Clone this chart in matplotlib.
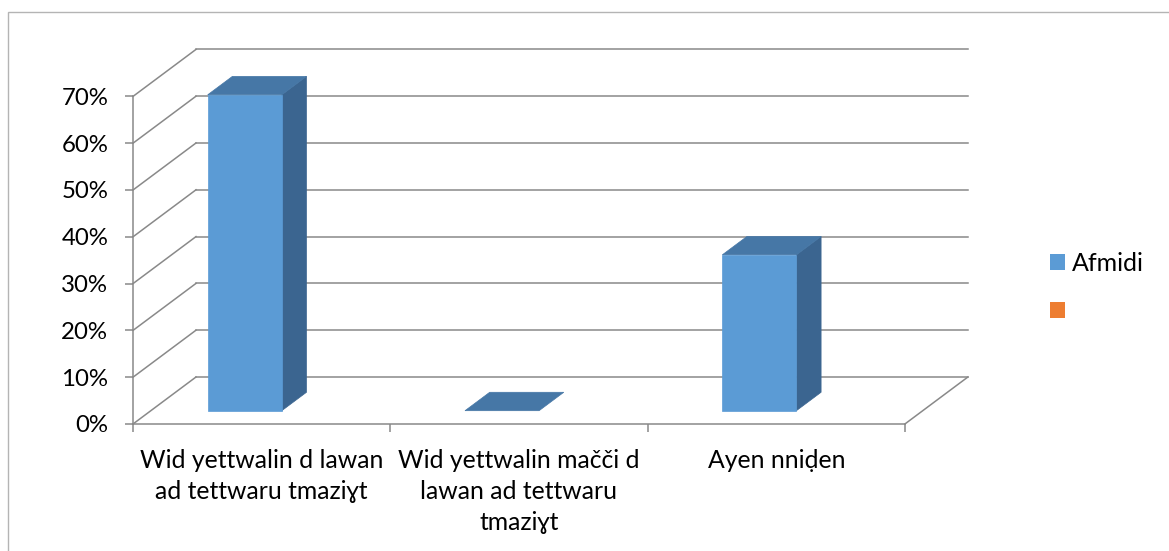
import numpy as np
import matplotlib.pyplot as plt
from matplotlib.patches import Polygon, Patch, Rectangle

plt.rcParams['font.family'] = ['Lato', 'Noto Sans', 'DejaVu Sans']

# data
categories = ['Wid yettwalin d lawan\nad tettwaru tmaziɣt',
              'Wid yettwalin mačči d\nlawan ad tettwaru\ntmaziɣt',
              'Ayen nniḍen']
values = [67.5, 0.0, 33.3]
series_name = 'Afmidi'
yticks = [0, 10, 20, 30, 40, 50, 60, 70]

# colours
FRONT = '#5b9bd5'
TOP = '#4677a6'
SIDE = '#3b6590'
ORANGE = '#ed7d31'
GRID = '#898989'

W, H = 1169, 551
fig = plt.figure(figsize=(W / 100, H / 100), dpi=100)

# pixel layout of the fake 3d box
x0_px, y0_px = 133, 424
px_per_cat = 257.3
px_per_pct = 4.68
depth_px = (63, 47)

ax = fig.add_axes([0, 0, 1, 1])
ax.set_xlim(-x0_px / px_per_cat, (W - x0_px) / px_per_cat)
ax.set_ylim(-(H - y0_px) / px_per_pct, y0_px / px_per_pct)

DX = depth_px[0] / px_per_cat
DY = depth_px[1] / px_per_pct


def proj(x, v, d):
    return (x + d * DX, v + d * DY)


ncat = len(categories)

# back wall grid + left wall diagonals
for v in yticks:
    a, b = proj(0, v, 1), proj(ncat, v, 1)
    ax.plot([a[0], b[0]], [a[1], b[1]], color=GRID, lw=1.1, zorder=1)
    c = proj(0, v, 0)
    ax.plot([c[0], a[0]], [c[1], a[1]], color=GRID, lw=1.1, zorder=1)
# right floor edge
a, b = proj(ncat, 0, 0), proj(ncat, 0, 1)
ax.plot([a[0], b[0]], [a[1], b[1]], color=GRID, lw=1.1, zorder=1)

# bars
bar_w = 0.288
bar_off = -0.135
d0, d1 = 0.283, 0.675
for i, val in enumerate(values):
    xl = i + 0.5 + bar_off - bar_w / 2
    xr = xl + bar_w
    top = [proj(xl, val, d0), proj(xr, val, d0), proj(xr, val, d1), proj(xl, val, d1)]
    if val > 0:
        side = [proj(xr, 0, d0), proj(xr, 0, d1), proj(xr, val, d1), proj(xr, val, d0)]
        front = [proj(xl, 0, d0), proj(xr, 0, d0), proj(xr, val, d0), proj(xl, val, d0)]
        ax.add_patch(Polygon(side, closed=True, fc=SIDE, ec=SIDE, lw=0.5, zorder=3))
        ax.add_patch(Polygon(top, closed=True, fc=TOP, ec=TOP, lw=0.5, zorder=3))
        ax.add_patch(Polygon(front, closed=True, fc=FRONT, ec=FRONT, lw=0.5, zorder=4))
    else:
        ax.add_patch(Polygon(top, closed=True, fc=TOP, ec=TOP, lw=0.5, zorder=3))

# axes
for s in ['top', 'right']:
    ax.spines[s].set_visible(False)
ax.spines['left'].set_position(('data', 0))
ax.spines['left'].set_bounds(0, yticks[-1])
ax.spines['bottom'].set_position(('data', 0))
ax.spines['bottom'].set_bounds(0, ncat)
for s in ['left', 'bottom']:
    ax.spines[s].set_color(GRID)
    ax.spines[s].set_linewidth(1.1)

ax.set_yticks(yticks, labels=[f'{v}%' for v in yticks])
ax.tick_params(axis='y', length=5.8, width=1.1, color=GRID, pad=12, labelsize=17.3)
ax.set_xticks(np.arange(ncat) + 0.5, labels=categories)
ax.set_xticks(np.arange(ncat + 1), minor=True)
ax.tick_params(axis='x', which='major', length=0, pad=18, labelsize=17.8)
ax.tick_params(axis='x', which='minor', length=5.8, width=1.1, color=GRID)
for lbl in ax.get_xticklabels():
    lbl.set_linespacing(1.42)

# legend
ax.legend(handles=[Patch(fc=FRONT), Patch(fc=ORANGE)], labels=[series_name, ' '],
          loc='upper left', bbox_to_anchor=(1050 / W, 1 - 252 / H),
          bbox_transform=fig.transFigure, frameon=False, fontsize=18,
          borderpad=0, borderaxespad=0, handlelength=0.6, handleheight=0.6,
          handletextpad=0.28, labelspacing=1.0)

# chart area frame
fig.patches.append(Rectangle((8 / W, -0.1), 1.2, 1 - 12 / H + 0.1,
                             transform=fig.transFigure, fill=False,
                             ec='#b4b4b4', lw=1))

fig.savefig('out.png', dpi=100)
